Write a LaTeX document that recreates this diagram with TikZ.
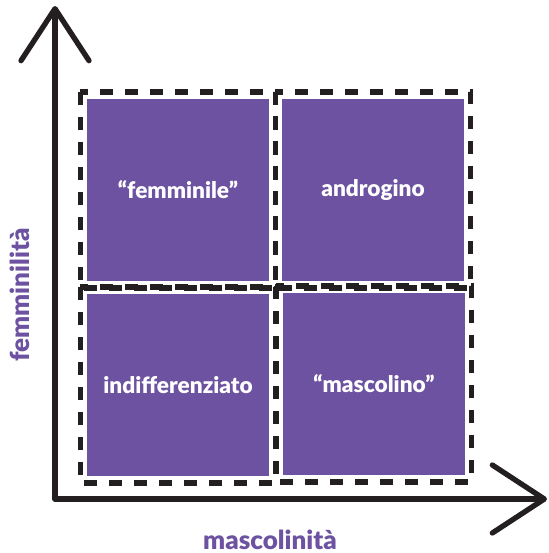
\documentclass[tikz,border=0pt]{standalone}
\usepackage{fontspec}
\setmainfont{Lato}[BoldFont={Lato Black}]
\usetikzlibrary{arrows.meta}
\definecolor{viola}{RGB}{108,82,160}
\definecolor{inchiostro}{RGB}{35,31,32}
\tikzset{
    quadrante/.style = {
        fill=viola,
        minimum width=136.5pt,
        minimum height=137pt,
        inner sep=0pt,
        outer sep=5pt,
        text=white,
        font=\bfseries\fontsize{17}{20}\selectfont
    },
    cornice/.style = {
        draw=inchiostro,
        line width=3.9pt,
        dash pattern=on 9.75pt off 9pt
    },
    asse/.style = {
        draw=inchiostro,
        line width=4pt,
        line cap=round,
        -{Straight Barb[length=39pt, width=51pt, round]}
    },
    etichetta/.style = {
        text=viola,
        font=\bfseries\fontsize{19.5}{22}\selectfont
    }
}

\begin{document}
\begin{tikzpicture}[x=0.75pt, y=-0.75pt]
    \useasboundingbox (0,0) rectangle (549,553);

    % Draw the four quadrants
    \node[quadrante] (femminile) at (178,190) {“femminile”};
    \node[quadrante] (androgino) at (373,190) {androgino};
    \node[quadrante] (indifferenziato) at (178,385) {indifferenziato};
    \node[quadrante] (mascolino) at (374,384) {“mascolino”};

    % Draw dashed frames
    \draw[cornice] (femminile.north west) rectangle (femminile.south east);
    \draw[cornice] (androgino.north west) rectangle (androgino.south east);
    \draw[cornice] (indifferenziato.north west) rectangle (indifferenziato.south east);
    \draw[cornice] (mascolino.north west) rectangle (mascolino.south east);

    % Draw axes
    \coordinate (origine) at (55,499);
    \coordinate (cima) at (55,6);
    \coordinate (fine) at (547,499);
    \draw[asse] (origine) -- (cima);
    \draw[asse] (origine) -- (fine);

    % Draw labels
    \node[etichetta, rotate=90] (femminilita) at (20,295) {femminilità};
    \node[etichetta] (mascolinita) at (270,540) {mascolinità};
\end{tikzpicture}
\end{document}
